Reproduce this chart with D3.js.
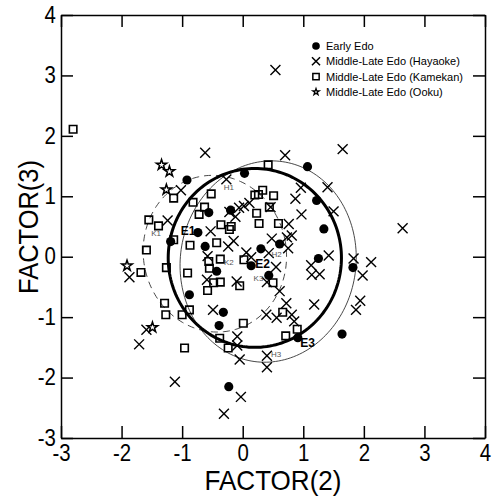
<html>
<head>
<meta charset="utf-8">
<script src='https://d3js.org/d3.v7.min.js'></script>
<style>
body {margin:0; background:white;}
.tick text {font-family: "Liberation Sans", Arial, sans-serif; font-size: 24px; fill: black;}
.axis path, .axis line {stroke: black; stroke-width: 1.5;}
</style>
</head>
<body onload='init()'>
<svg width=494 height=499></svg>
<script>
// data: [FACTOR(2), FACTOR(3)]
var earlyEdo = [[-0.92,1.27],[0.03,1.38],[1.07,1.49],[-0.56,0.73],[-0.20,0.77],[1.22,0.93],[-0.74,0.40],[-0.62,0.17],
  [-1.19,0.25],[1.34,0.46],[0.30,0.13],[0.61,0.21],[1.25,-0.03],[-0.43,-0.24],[0.14,-0.15],[0.43,-0.31],[1.82,-0.18],
  [-0.88,-0.63],[-0.32,-0.92],[-0.39,-1.14],[0.91,-1.34],[1.64,-1.28],[-0.23,-2.15]];
var hayaoke = [[0.54,3.09],[-0.62,1.72],[0.70,1.68],[1.65,1.78],[-1.02,1.10],[-0.27,1.28],[0.96,1.14],[1.40,1.15],
  [0.87,0.96],[-0.22,0.74],[-0.12,0.66],[-0.06,0.81],[0.02,0.84],[0.11,0.89],[0.46,0.82],[0.97,0.70],[1.50,0.75],
  [0.76,0.54],[-1.24,0.60],[-0.53,0.42],[0.48,0.30],[0.73,0.32],[0.81,0.35],[-0.24,0.17],[-0.15,0.26],[0.75,0.14],
  [-0.58,0.01],[0.06,0.07],[0.14,-0.01],[0.43,0.06],[1.42,0.02],[1.83,-0.03],[2.12,-0.09],[0.55,-0.17],[1.13,-0.14],
  [1.14,-0.30],[1.27,-0.29],[1.98,-0.31],[-0.59,-0.38],[-0.10,-0.41],[0.40,-0.42],[0.61,-0.57],[1.94,-0.73],[1.87,-0.88],
  [-0.49,-0.88],[0.39,-0.96],[0.56,-1.01],[0.72,-0.77],[0.81,-0.96],[0.85,-1.07],[1.18,-0.79],[-0.09,-1.32],[-0.09,-1.47],
  [-0.05,-1.70],[0.40,-1.64],[0.40,-1.83],[-0.03,-2.32],[-0.31,-2.60],[-1.12,-2.07],[-1.87,-0.34],[-1.59,-1.21],
  [-1.71,-1.45],[2.64,0.47]];
var kamekan = [[-2.80,2.11],[0.42,1.52],[-1.14,0.97],[-0.52,1.04],[-0.82,0.90],[-0.63,0.82],[-0.72,0.70],[-1.55,0.61],
  [-1.39,0.51],[-0.36,0.53],[-1.14,0.28],[-0.87,0.19],[-0.43,0.23],[-1.59,0.11],[0.33,1.10],[0.20,1.02],[0.26,1.03],
  [0.51,1.01],[0.44,0.82],[0.23,0.72],[0.59,0.55],[0.27,0.55],[-0.19,0.50],[-0.22,0.45],[-0.37,-0.04],[0.02,-0.05],
  [-0.55,-0.19],[-0.91,-0.27],[-1.26,-0.18],[-0.56,-0.08],[-0.48,-0.43],[-0.37,-0.42],[-0.58,-0.56],[-0.05,-0.48],
  [0.50,-0.43],[0.66,-0.92],[0.01,-1.10],[0.90,-1.20],[0.71,-1.31],[-0.38,-1.35],[-0.24,-1.51],[-1.68,-0.26],
  [-1.29,-0.77],[-1.27,-0.96],[-1.00,-0.96],[-0.88,-0.88],[-0.96,-1.51]];
var ooku = [[-1.34,1.52],[-1.21,1.41],[-1.26,1.11],[-1.91,-0.15],[-1.49,-1.17]];

var xTicks = [-3,-2,-1,0,1,2,3,4];
var yTicks = [-3,-2,-1,0,1,2,3,4];
var legendNames = ["Early Edo","Middle-Late Edo (Hayaoke)","Middle-Late Edo (Kamekan)","Middle-Late Edo (Ooku)"];

// ellipses: centre x, centre y, semi-axis a, semi-axis b, tilt (deg)
var ellipseE = [0.20,-0.02,1.43,1.48,0];
var ellipseH = [0.42,-0.08,1.45,1.67,8];
var ellipseK = [-0.46,0.05,1.18,1.30,-10];

var pointLabels = [["E1",-0.90,0.42],["E2",0.33,-0.12],["E3",1.07,-1.42]];
var smallLabels = [["K1",-1.43,0.38],["K2",-0.23,-0.09],["K3",0.26,-0.36],["H1",-0.23,1.15],["H2",0.56,0.03],["H3",0.55,-1.61]];

function init() {
	var svg = d3.select("svg");
	var x = d3.scaleLinear().domain([-3,4]).range([61,485]);
	var y = d3.scaleLinear().domain([-3,4]).range([438,15]);
	var fmt = function(d){ return (d < 0 ? "-" : "") + Math.abs(d); };

	// axes with inward ticks on all four sides
	svg.append("g").attr("class","axis xb").attr("transform","translate(0,438)")
		.call(d3.axisBottom(x).tickValues(xTicks).tickSizeInner(-12).tickSizeOuter(0).tickPadding(6).tickFormat(fmt));
	svg.append("g").attr("class","axis yl").attr("transform","translate(61,0)")
		.call(d3.axisLeft(y).tickValues(yTicks).tickSizeInner(-12).tickSizeOuter(0).tickPadding(4).tickFormat(fmt));
	svg.append("g").attr("class","axis").attr("transform","translate(0,15)")
		.call(d3.axisTop(x).tickValues(xTicks).tickSizeInner(-12).tickSizeOuter(0).tickFormat(""));
	svg.append("g").attr("class","axis").attr("transform","translate(485,0)")
		.call(d3.axisRight(y).tickValues(yTicks).tickSizeInner(-12).tickSizeOuter(0).tickFormat(""));
	svg.selectAll(".axis").attr("font-size",null).attr("font-family",null);
	// narrow the digits like the original condensed face
	svg.selectAll(".xb .tick text").attr("transform","scale(0.85,1)");
	svg.selectAll(".yl .tick text").attr("x",-6).attr("dy","0.3em").attr("transform","scale(0.85,1)");

	svg.append("text").attr("x",273).attr("y",490).attr("text-anchor","middle")
		.attr("textLength",137).attr("lengthAdjust","spacingAndGlyphs")
		.style("font-family","'Liberation Sans', Arial, sans-serif").style("font-size","28px").text("FACTOR(2)");
	svg.append("text").attr("transform","translate(38,227) rotate(-90)").attr("text-anchor","middle")
		.attr("textLength",134).attr("lengthAdjust","spacingAndGlyphs")
		.style("font-family","'Liberation Sans', Arial, sans-serif").style("font-size","28px").text("FACTOR(3)");

	// ellipses
	function ellipsePath(e) {
		var phi = e[4]*Math.PI/180;
		var pts = d3.range(0, 2*Math.PI, Math.PI/90).map(function(t){
			var px = e[0] + e[2]*Math.cos(t)*Math.cos(phi) + e[3]*Math.sin(t)*Math.sin(phi);
			var py = e[1] - e[2]*Math.cos(t)*Math.sin(phi) + e[3]*Math.sin(t)*Math.cos(phi);
			return [x(px), y(py)];
		});
		return d3.line().curve(d3.curveLinearClosed)(pts);
	}
	svg.append("path").attr("d",ellipsePath(ellipseK)).attr("fill","none").attr("stroke","#333").attr("stroke-width",0.9).attr("stroke-dasharray","7,5");
	svg.append("path").attr("d",ellipsePath(ellipseH)).attr("fill","none").attr("stroke","#333").attr("stroke-width",0.9);
	svg.append("path").attr("d",ellipsePath(ellipseE)).attr("fill","none").attr("stroke","black").attr("stroke-width",3);

	// points
	var g = svg.append("g");
	g.selectAll(".kam").data(kamekan).enter().append("path")
		.attr("d", d3.symbol().type(d3.symbolSquare).size(56))
		.attr("transform", function(d){return "translate("+x(d[0])+","+y(d[1])+")";})
		.attr("fill","none").attr("stroke","black").attr("stroke-width",1.6);
	g.selectAll(".hay").data(hayaoke).enter().append("path")
		.attr("d", d3.symbol().type(d3.symbolTimes).size(66))
		.attr("transform", function(d){return "translate("+x(d[0])+","+y(d[1])+")";})
		.attr("fill","none").attr("stroke","black").attr("stroke-width",1.4);
	g.selectAll(".ook").data(ooku).enter().append("path")
		.attr("d", d3.symbol().type(d3.symbolStar).size(34))
		.attr("transform", function(d){return "translate("+x(d[0])+","+y(d[1])+")";})
		.attr("fill","white").attr("stroke","black").attr("stroke-width",1.5);
	g.selectAll(".early").data(earlyEdo).enter().append("path")
		.attr("d", d3.symbol().type(d3.symbolCircle).size(66))
		.attr("transform", function(d){return "translate("+x(d[0])+","+y(d[1])+")";})
		.attr("fill","black");

	// labels
	svg.selectAll(".plab").data(pointLabels).enter().append("text")
		.attr("x",function(d){return x(d[1]);}).attr("y",function(d){return y(d[2]);})
		.attr("text-anchor","middle").attr("dominant-baseline","central")
		.style("font-family","'Liberation Sans', sans-serif").style("font-weight","bold").style("font-size","12px")
		.text(function(d){return d[0];});
	svg.selectAll(".slab").data(smallLabels).enter().append("text")
		.attr("x",function(d){return x(d[1]);}).attr("y",function(d){return y(d[2]);})
		.attr("text-anchor","middle").attr("dominant-baseline","central")
		.style("font-family","'Liberation Sans', sans-serif").style("font-size","8px").attr("fill","#555")
		.text(function(d){return d[0];});

	// legend
	var legendTypes = [d3.symbolCircle, d3.symbolTimes, d3.symbolSquare, d3.symbolStar];
	var legendSizes = [46, 44, 40, 13];
	var lg = svg.append("g");
	legendNames.forEach(function(name, i){
		var ly = 46 + i*15.3;
		var filled = i == 0;
		lg.append("path").attr("d", d3.symbol().type(legendTypes[i]).size(legendSizes[i]))
			.attr("transform","translate(316,"+ly+")")
			.attr("fill", filled ? "black" : (i == 3 ? "white" : "none"))
			.attr("stroke", filled ? "none" : "black").attr("stroke-width", i == 3 ? 1.3 : 1.5);
		lg.append("text").attr("x",326).attr("y",ly).attr("dominant-baseline","central")
			.style("font-family","'Liberation Sans', Arial, sans-serif").style("font-size","11px").text(name);
	});
}
</script>
</body>
</html>
